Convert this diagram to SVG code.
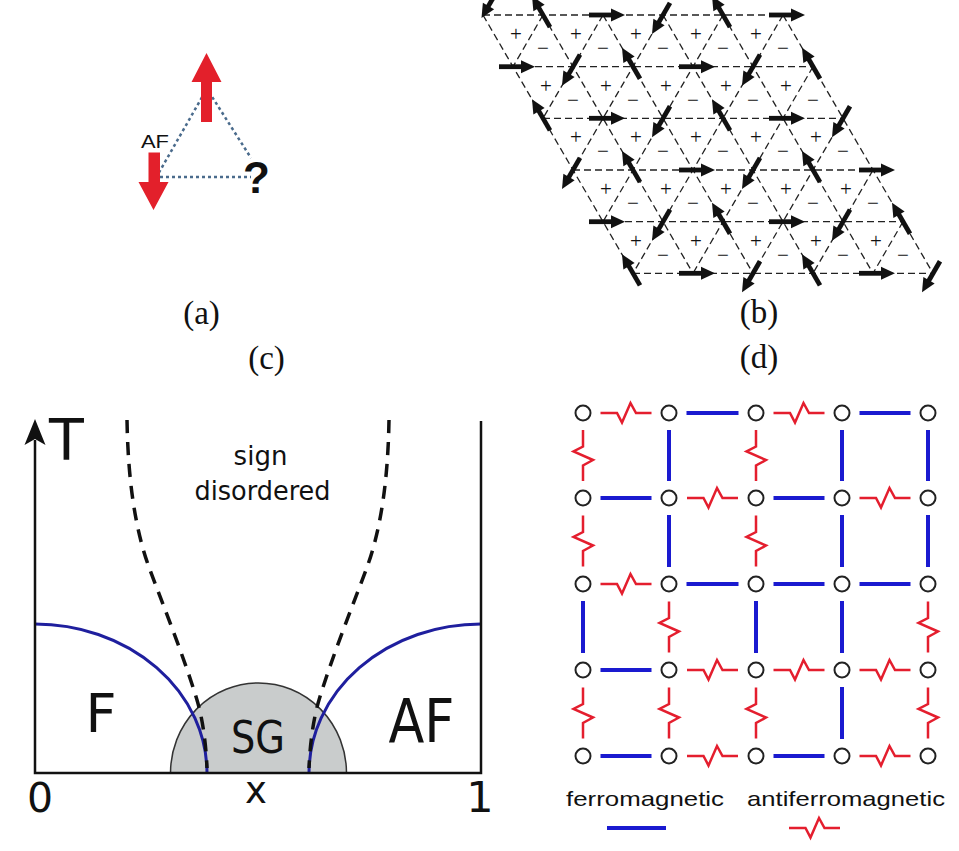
<svg xmlns="http://www.w3.org/2000/svg" xmlns:xlink="http://www.w3.org/1999/xlink" width="959" height="851" viewBox="0 0 959 851">
<style>
.lbl{font-family:"Liberation Serif","Times New Roman",serif;font-size:33px;fill:#111;text-anchor:middle}
.sgn{font-family:"Liberation Serif","Times New Roman",serif;font-size:21px;fill:#111;text-anchor:middle}
.dv{font-family:"DejaVu Sans",Verdana,sans-serif;fill:#111}
.lat{fill:none;stroke:#222;stroke-width:1.3;stroke-dasharray:7 4}
.ax{fill:none;stroke:#111;stroke-width:2.5}
.pb{fill:none;stroke:#1f1f9e;stroke-width:3}
.pd{fill:none;stroke:#111;stroke-width:3.5;stroke-dasharray:13 9}
.fb{stroke:#1a1ad0;stroke-width:4;fill:none}
.af{stroke:#e41e2e;stroke-width:2.5;fill:none;stroke-linejoin:miter}
.site{fill:#fff;stroke:#222;stroke-width:2}
.leg{font-family:"Liberation Sans",Arial,sans-serif;font-size:21px;fill:#111}
.tri{fill:none;stroke:#4a6b8c;stroke-width:2.5;stroke-dasharray:3 3}
</style>
<defs>
<g id="sp" fill="#111"><rect x="-14" y="-2.4" width="24" height="4.8"/><polygon points="8,-6.5 22,0 8,6.5"/></g>
<path id="zz" d="M-25.5,0 H-9 L-4,9.5 L4.5,-10 L10,0 H25.5"/>
</defs>
<rect width="959" height="851" fill="#fff"/>

<!-- (a) -->
<g id="panel-a">
<g id="a-bonds">
<line class="tri" x1="205" y1="92" x2="157" y2="176"/>
<line class="tri" x1="209" y1="92" x2="251" y2="158"/>
<line class="tri" x1="160" y1="177" x2="251" y2="177"/>
</g>
<g id="a-spin-up"><polygon fill="#e3202b" points="201,122 201,82 191.5,82 206.5,53 221.5,82 212,82 212,122"/></g>
<g id="a-spin-down"><polygon fill="#e3202b" points="148.5,152.5 160,152.5 160,182 168.5,182 153.5,210 138.5,182 148.5,182"/></g>
<text x="141" y="148" font-family="Liberation Sans, Arial, sans-serif" font-size="19" fill="#111" textLength="28" lengthAdjust="spacingAndGlyphs">AF</text>
<g id="a-spin-q"><text x="256.5" y="193" font-family="Liberation Sans, Arial, sans-serif" font-size="44" font-weight="bold" fill="#111" text-anchor="middle">?</text></g>
</g>
<text class="lbl" x="201.5" y="324">(a)</text>

<!-- (b) -->
<g id="panel-b">
<path class="lat" d="M483,15H783 M513,66.7H813 M543,118.3H843 M573,170H873 M603,221.7H903 M633,273.3H933
M483,15L633,273.3 M543,15L693,273.3 M603,15L753,273.3 M663,15L813,273.3 M723,15L873,273.3 M783,15L933,273.3
M543,15L513,66.7 M603,15L543,118.3 M663,15L573,170 M723,15L603,221.7 M783,15L633,273.3 M813,66.7L693,273.3 M843,118.3L753,273.3 M873,170L813,273.3 M903,221.7L873,273.3"/>
<g id="b-signs">
<text class="sgn" x="516" y="41">+</text><text class="sgn" x="576" y="41">+</text><text class="sgn" x="636" y="41">+</text><text class="sgn" x="696" y="41">+</text><text class="sgn" x="756" y="41">+</text>
<text class="sgn" x="543" y="55">−</text><text class="sgn" x="603" y="55">−</text><text class="sgn" x="663" y="55">−</text><text class="sgn" x="723" y="55">−</text><text class="sgn" x="783" y="55">−</text>
<text class="sgn" x="546" y="92.7">+</text><text class="sgn" x="606" y="92.7">+</text><text class="sgn" x="666" y="92.7">+</text><text class="sgn" x="726" y="92.7">+</text><text class="sgn" x="786" y="92.7">+</text>
<text class="sgn" x="573" y="106.7">−</text><text class="sgn" x="633" y="106.7">−</text><text class="sgn" x="693" y="106.7">−</text><text class="sgn" x="753" y="106.7">−</text><text class="sgn" x="813" y="106.7">−</text>
<text class="sgn" x="576" y="144.3">+</text><text class="sgn" x="636" y="144.3">+</text><text class="sgn" x="696" y="144.3">+</text><text class="sgn" x="756" y="144.3">+</text><text class="sgn" x="816" y="144.3">+</text>
<text class="sgn" x="603" y="158.3">−</text><text class="sgn" x="663" y="158.3">−</text><text class="sgn" x="723" y="158.3">−</text><text class="sgn" x="783" y="158.3">−</text><text class="sgn" x="843" y="158.3">−</text>
<text class="sgn" x="606" y="196">+</text><text class="sgn" x="666" y="196">+</text><text class="sgn" x="726" y="196">+</text><text class="sgn" x="786" y="196">+</text><text class="sgn" x="846" y="196">+</text>
<text class="sgn" x="633" y="210">−</text><text class="sgn" x="693" y="210">−</text><text class="sgn" x="753" y="210">−</text><text class="sgn" x="813" y="210">−</text><text class="sgn" x="873" y="210">−</text>
<text class="sgn" x="636" y="247.7">+</text><text class="sgn" x="696" y="247.7">+</text><text class="sgn" x="756" y="247.7">+</text><text class="sgn" x="816" y="247.7">+</text><text class="sgn" x="876" y="247.7">+</text>
<text class="sgn" x="663" y="261.7">−</text><text class="sgn" x="723" y="261.7">−</text><text class="sgn" x="783" y="261.7">−</text><text class="sgn" x="843" y="261.7">−</text><text class="sgn" x="903" y="261.7">−</text>
</g>
<g id="b-spins">
<use href="#sp" transform="translate(492.5,-1) rotate(120)"/>
<use href="#sp" transform="translate(543,15) rotate(-120)"/>
<use href="#sp" transform="translate(603,15)"/>
<use href="#sp" transform="translate(663,15) rotate(120)"/>
<use href="#sp" transform="translate(723,15) rotate(-120)"/>
<use href="#sp" transform="translate(783,15)"/>
<use href="#sp" transform="translate(513,66.7)"/>
<use href="#sp" transform="translate(573,66.7) rotate(120)"/>
<use href="#sp" transform="translate(633,66.7) rotate(-120)"/>
<use href="#sp" transform="translate(693,66.7)"/>
<use href="#sp" transform="translate(753,66.7) rotate(120)"/>
<use href="#sp" transform="translate(813,66.7) rotate(-120)"/>
<use href="#sp" transform="translate(543,118.3) rotate(-120)"/>
<use href="#sp" transform="translate(603,118.3)"/>
<use href="#sp" transform="translate(663,118.3) rotate(120)"/>
<use href="#sp" transform="translate(723,118.3) rotate(-120)"/>
<use href="#sp" transform="translate(783,118.3)"/>
<use href="#sp" transform="translate(843,118.3) rotate(120)"/>
<use href="#sp" transform="translate(573,170) rotate(120)"/>
<use href="#sp" transform="translate(633,170) rotate(-120)"/>
<use href="#sp" transform="translate(693,170)"/>
<use href="#sp" transform="translate(753,170) rotate(120)"/>
<use href="#sp" transform="translate(813,170) rotate(-120)"/>
<use href="#sp" transform="translate(873,170)"/>
<use href="#sp" transform="translate(603,221.7)"/>
<use href="#sp" transform="translate(663,221.7) rotate(120)"/>
<use href="#sp" transform="translate(723,221.7) rotate(-120)"/>
<use href="#sp" transform="translate(783,221.7)"/>
<use href="#sp" transform="translate(843,221.7) rotate(120)"/>
<use href="#sp" transform="translate(903,221.7) rotate(-120)"/>
<use href="#sp" transform="translate(633,273.3) rotate(-120)"/>
<use href="#sp" transform="translate(693,273.3)"/>
<use href="#sp" transform="translate(753,273.3) rotate(120)"/>
<use href="#sp" transform="translate(813,273.3) rotate(-120)"/>
<use href="#sp" transform="translate(873,273.3)"/>
<use href="#sp" transform="translate(933,273.3) rotate(120)"/>
</g>
</g>
<text class="lbl" x="759" y="323">(b)</text>

<!-- (c) -->
<text class="lbl" x="266.5" y="369">(c)</text>
<g id="panel-c">
<g id="c-SG">
<path d="M170.5,773 A88,90 0 0 1 346.5,773 Z" fill="#c9cccc" stroke="#333" stroke-width="1.5"/>
<text class="dv" x="258" y="753" font-size="45" text-anchor="middle" textLength="54" lengthAdjust="spacingAndGlyphs">SG</text>
</g>
<g id="c-lines">
<path class="pb" d="M35,624 A172,149 0 0 1 207,773"/>
<path class="pb" d="M481,624 A172,149 0 0 0 309,773"/>
<path class="pd" d="M127,420 C128,480 135,530 150,570 C165,610 185,660 197,700 C203,720 206,745 207,768"/>
<path class="pd" d="M389,420 C388,480 381,530 366,570 C351,610 331,660 319,700 C313,720 310,745 309,768"/>
</g>
<g id="c-axes">
<path class="ax" d="M35,440 V773 H481 V421"/>
<polygon points="35,419 45.5,445 35,439 24.5,445" fill="#111"/>
</g>
<text class="dv" x="49" y="460" font-size="57">T</text>
<text class="dv" x="101" y="732" font-size="54" text-anchor="middle">F</text>
<text class="dv" x="421.5" y="742" font-size="60" text-anchor="middle" textLength="66" lengthAdjust="spacingAndGlyphs">AF</text>
<text class="dv" x="260.5" y="465" font-size="26" text-anchor="middle">sign</text>
<text class="dv" x="262.5" y="500" font-size="26" text-anchor="middle" textLength="136" lengthAdjust="spacingAndGlyphs">disordered</text>
<text class="dv" x="40" y="812" font-size="41" text-anchor="middle">0</text>
<text class="dv" x="256" y="803" font-size="37" text-anchor="middle">x</text>
<text class="dv" x="480" y="812" font-size="43" text-anchor="middle">1</text>
</g>

<!-- (d) -->
<text class="lbl" x="759" y="368">(d)</text>
<g id="panel-d">
<g id="d-bonds">
<line class="fb" x1="686.5" y1="413" x2="738.5" y2="413"/>
<line class="fb" x1="859.5" y1="413" x2="910.5" y2="413"/>
<line class="fb" x1="600.5" y1="498" x2="651.5" y2="498"/>
<line class="fb" x1="773.5" y1="498" x2="824.5" y2="498"/>
<line class="fb" x1="686.5" y1="584" x2="738.5" y2="584"/>
<line class="fb" x1="773.5" y1="584" x2="824.5" y2="584"/>
<line class="fb" x1="859.5" y1="584" x2="910.5" y2="584"/>
<line class="fb" x1="600.5" y1="670" x2="651.5" y2="670"/>
<line class="fb" x1="600.5" y1="756" x2="651.5" y2="756"/>
<line class="fb" x1="773.5" y1="756" x2="824.5" y2="756"/>
<line class="fb" x1="669" y1="430" x2="669" y2="481"/>
<line class="fb" x1="842" y1="430" x2="842" y2="481"/>
<line class="fb" x1="928" y1="430" x2="928" y2="481"/>
<line class="fb" x1="669" y1="515" x2="669" y2="567"/>
<line class="fb" x1="842" y1="515" x2="842" y2="567"/>
<line class="fb" x1="928" y1="515" x2="928" y2="567"/>
<line class="fb" x1="583" y1="601" x2="583" y2="653"/>
<line class="fb" x1="756" y1="601" x2="756" y2="653"/>
<line class="fb" x1="842" y1="601" x2="842" y2="653"/>
<line class="fb" x1="842" y1="687" x2="842" y2="739"/>
<use class="af" href="#zz" transform="translate(626,413)"/>
<use class="af" href="#zz" transform="translate(799,413)"/>
<use class="af" href="#zz" transform="translate(712.5,498)"/>
<use class="af" href="#zz" transform="translate(885,498)"/>
<use class="af" href="#zz" transform="translate(626,584)"/>
<use class="af" href="#zz" transform="translate(712.5,670)"/>
<use class="af" href="#zz" transform="translate(799,670)"/>
<use class="af" href="#zz" transform="translate(885,670)"/>
<use class="af" href="#zz" transform="translate(712.5,756)"/>
<use class="af" href="#zz" transform="translate(885,756)"/>
<use class="af" href="#zz" transform="translate(583,455.5) rotate(90)"/>
<use class="af" href="#zz" transform="translate(756,455.5) rotate(90)"/>
<use class="af" href="#zz" transform="translate(583,541) rotate(90)"/>
<use class="af" href="#zz" transform="translate(756,541) rotate(90)"/>
<use class="af" href="#zz" transform="translate(669,627) rotate(90)"/>
<use class="af" href="#zz" transform="translate(928,627) rotate(90)"/>
<use class="af" href="#zz" transform="translate(583,713) rotate(90)"/>
<use class="af" href="#zz" transform="translate(669,713) rotate(90)"/>
<use class="af" href="#zz" transform="translate(756,713) rotate(90)"/>
<use class="af" href="#zz" transform="translate(928,713) rotate(90)"/>
</g>
<g id="d-r1c1"><circle class="site" cx="583" cy="413" r="7.5"/></g>
<g id="d-r1c2"><circle class="site" cx="669" cy="413" r="7.5"/></g>
<g id="d-r1c3"><circle class="site" cx="756" cy="413" r="7.5"/></g>
<g id="d-r1c4"><circle class="site" cx="842" cy="413" r="7.5"/></g>
<g id="d-r1c5"><circle class="site" cx="928" cy="413" r="7.5"/></g>
<g id="d-r2c1"><circle class="site" cx="583" cy="498" r="7.5"/></g>
<g id="d-r2c2"><circle class="site" cx="669" cy="498" r="7.5"/></g>
<g id="d-r2c3"><circle class="site" cx="756" cy="498" r="7.5"/></g>
<g id="d-r2c4"><circle class="site" cx="842" cy="498" r="7.5"/></g>
<g id="d-r2c5"><circle class="site" cx="928" cy="498" r="7.5"/></g>
<g id="d-r3c1"><circle class="site" cx="583" cy="584" r="7.5"/></g>
<g id="d-r3c2"><circle class="site" cx="669" cy="584" r="7.5"/></g>
<g id="d-r3c3"><circle class="site" cx="756" cy="584" r="7.5"/></g>
<g id="d-r3c4"><circle class="site" cx="842" cy="584" r="7.5"/></g>
<g id="d-r3c5"><circle class="site" cx="928" cy="584" r="7.5"/></g>
<g id="d-r4c1"><circle class="site" cx="583" cy="670" r="7.5"/></g>
<g id="d-r4c2"><circle class="site" cx="669" cy="670" r="7.5"/></g>
<g id="d-r4c3"><circle class="site" cx="756" cy="670" r="7.5"/></g>
<g id="d-r4c4"><circle class="site" cx="842" cy="670" r="7.5"/></g>
<g id="d-r4c5"><circle class="site" cx="928" cy="670" r="7.5"/></g>
<g id="d-r5c1"><circle class="site" cx="583" cy="756" r="7.5"/></g>
<g id="d-r5c2"><circle class="site" cx="669" cy="756" r="7.5"/></g>
<g id="d-r5c3"><circle class="site" cx="756" cy="756" r="7.5"/></g>
<g id="d-r5c4"><circle class="site" cx="842" cy="756" r="7.5"/></g>
<g id="d-r5c5"><circle class="site" cx="928" cy="756" r="7.5"/></g>
<g id="d-legend">
<text class="leg" x="645" y="806" text-anchor="middle" textLength="158" lengthAdjust="spacingAndGlyphs">ferromagnetic</text>
<text class="leg" x="846" y="806" text-anchor="middle" textLength="198" lengthAdjust="spacingAndGlyphs">antiferromagnetic</text>
<line class="fb" x1="607" y1="828" x2="666" y2="828"/>
<use class="af" href="#zz" transform="translate(814.5,828)"/>
</g>
</g>
</svg>
